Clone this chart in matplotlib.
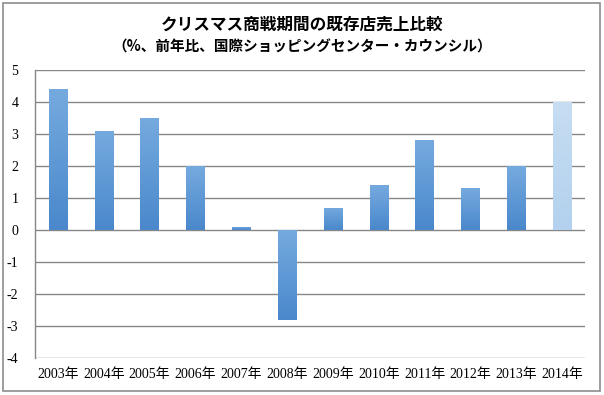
import matplotlib
matplotlib.use("Agg")
import matplotlib.pyplot as plt
import numpy as np
from matplotlib.patches import Rectangle
from matplotlib.colors import LinearSegmentedColormap

years = ["2003年", "2004年", "2005年", "2006年", "2007年", "2008年", "2009年",
         "2010年", "2011年", "2012年", "2013年", "2014年"]
values = [4.4, 3.1, 3.5, 2.0, 0.1, -2.8, 0.7, 1.4, 2.8, 1.3, 2.0, 4.0]
yticks = [-4, -3, -2, -1, 0, 1, 2, 3, 4, 5]
title1 = "クリスマス商戦期間の既存店売上比較"
title2 = "（%、前年比、国際ショッピングセンター・カウンシル）"

label_font = ["Liberation Serif", "Noto Sans CJK JP"]
title_font = ["Noto Sans CJK JP", "DejaVu Sans"]

fig = plt.figure(figsize=(6.04, 3.95), dpi=100)
fig.patches.append(Rectangle((3 / 604, 4 / 395), 597 / 604, 388 / 395, transform=fig.transFigure,
                             fill=False, edgecolor="#8c8c8c", linewidth=1.2))
ax = fig.add_axes([35 / 604, 1 - 358 / 395, 550 / 604, 288 / 395])

x = np.arange(len(years))
colors = ["#5b9bd5"] * (len(years) - 1) + ["#bdd7ee"]
bars = ax.bar(x, values, width=0.4, color=colors, zorder=3)

grad = np.linspace(0, 1, 100).reshape(-1, 1)
cmap_blue = LinearSegmentedColormap.from_list("b", ["#4a88cc", "#75aade"])
cmap_light = LinearSegmentedColormap.from_list("l", ["#b3d1ee", "#c6ddf2"])
for i, b in enumerate(bars):
    x0, y0 = b.get_x(), b.get_y()
    w, h = b.get_width(), b.get_height()
    cm = cmap_light if i == len(bars) - 1 else cmap_blue
    im = ax.imshow(grad, cmap=cm, aspect="auto", origin="lower",
                   extent=(x0, x0 + w, min(y0, y0 + h), max(y0, y0 + h)), zorder=4)
    im.set_clip_path(b)

ax.set_xlim(-0.5, len(years) - 0.5)
ax.set_ylim(-4, 5)
ax.set_yticks(yticks)
ax.set_yticklabels([str(t) for t in yticks], family=label_font, fontsize=10)
ax.set_xticks(x)
ax.set_xticklabels(years, family=label_font, fontsize=10)
ax.tick_params(length=0)
ax.tick_params(axis="y", pad=12)
ax.tick_params(axis="x", pad=7)
ax.grid(axis="y", color="#878787", linewidth=1, zorder=0)
for s in ["top", "right", "bottom"]:
    ax.spines[s].set_visible(False)
ax.spines["left"].set_color("#878787")
ax.spines["left"].set_linewidth(1)

fig.text(0.5, 1 - 25 / 395, title1, ha="center", va="center", family=title_font,
         fontsize=12, fontweight="bold")
fig.text(0.5, 1 - 47 / 395, title2, ha="center", va="center", family=title_font,
         fontsize=10.5, fontweight="bold")

fig.savefig("out.png", dpi=100)
